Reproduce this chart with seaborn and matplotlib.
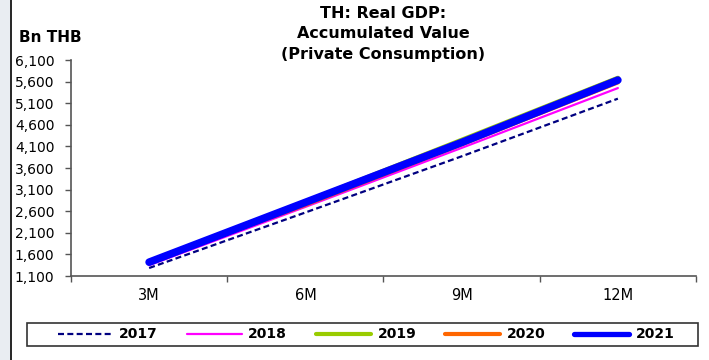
import matplotlib
matplotlib.use("Agg")
import matplotlib.pyplot as plt
from matplotlib.patches import Rectangle
from matplotlib.lines import Line2D
import seaborn as sns
import pandas as pd

# Accumulated real private consumption, Bn THB
periods = ["3M", "6M", "9M", "12M"]
years = ["2017", "2018", "2019", "2020", "2021"]
v2017 = [1285, 2570, 3870, 5205]
v2018 = [1350, 2700, 4065, 5450]
v2019 = [1420, 2820, 4250, 5685]
v2020 = [1430, 2750, 4150, 5585]
v2021 = [1420, 2805, 4190, 5635]
yticks = [1100, 1600, 2100, 2600, 3100, 3600, 4100, 4600, 5100, 5600, 6100]
title_lines = ["TH: Real GDP:", "Accumulated Value", "(Private Consumption)"]

series = dict(zip(years, [v2017, v2018, v2019, v2020, v2021]))
rows = []
for yr, vals in series.items():
    for i, (p, v) in enumerate(zip(periods, vals)):
        rows.append({"pos": i, "period": p, "year": yr, "value": v})
df = pd.DataFrame(rows)

sns.set_theme(style="white")
plt.rcParams["font.family"] = ["DejaVu Sans"]
plt.rcParams["text.color"] = "black"
plt.rcParams["xtick.color"] = "black"
plt.rcParams["ytick.color"] = "black"

W, H = 709, 360
styles = {
    "2017": dict(color="#000080", lw=1.6, ls=(0, (2.7, 1.5)), leg_lw=1.6),
    "2018": dict(color="#FF00FF", lw=1.6, ls="-", leg_lw=1.6),
    "2019": dict(color="#99CC00", lw=3.2, ls="-", leg_lw=3.0),
    "2020": dict(color="#FF6600", lw=3.2, ls="-", leg_lw=3.0),
    "2021": dict(color="#0000FF", lw=5.5, ls="-", leg_lw=3.8),
}

fig = plt.figure(figsize=(W / 100, H / 100), dpi=100)
ax = fig.add_axes([71 / W, 1 - 276 / H, (696 - 71) / W, 216 / H])

for yr in years:
    st = styles[yr]
    sns.lineplot(data=df[df["year"] == yr], x="pos", y="value", ax=ax,
                 color=st["color"], linewidth=st["lw"], linestyle=st["ls"],
                 solid_capstyle="round", legend=False)

ax.set_xlim(-0.5, len(periods) - 0.5)
ax.set_ylim(yticks[0], yticks[-1])
ax.set_yticks(yticks)
ax.set_yticklabels([f"{t:,}" for t in yticks], fontsize=10)
ax.set_xticks([i - 0.5 for i in range(len(periods) + 1)])
ax.set_xticklabels([])
ax.set_xticks(range(len(periods)), minor=True)
ax.set_xticklabels(periods, minor=True, fontsize=10.5)
ax.tick_params(axis="x", which="major", length=4, width=1, color="#555555", direction="out", bottom=True)
ax.tick_params(axis="x", which="minor", length=0, pad=9, labelcolor="black")
ax.tick_params(axis="y", length=4, width=1, color="#555555", direction="out", left=True, pad=8,
               labelcolor="black")
ax.set_xlabel("")
ax.set_ylabel("")
for s in ["top", "right"]:
    ax.spines[s].set_visible(False)
for s in ["left", "bottom"]:
    ax.spines[s].set_color("#555555")
    ax.spines[s].set_linewidth(1.2)

for txt, yc in zip(title_lines, [13, 33, 54]):
    fig.text(383 / W, 1 - yc / H, txt, ha="center", va="center",
             fontsize=11.5, fontweight="bold", color="black")
fig.text(19 / W, 1 - 37 / H, "Bn THB", ha="left", va="center", fontsize=11,
         fontweight="bold", color="black")

# legend row with its own box
fig.patches.append(Rectangle((27 / W, 1 - 346 / H), (698 - 27) / W, 23 / H,
                             transform=fig.transFigure, facecolor="white",
                             edgecolor="#333333", lw=1.2, zorder=1))
handles = [Line2D([0], [0], color=styles[y]["color"], lw=styles[y]["leg_lw"], ls=styles[y]["ls"],
                  solid_capstyle="round") for y in years]
leg = fig.legend(handles, years, loc="center", ncol=5,
                 bbox_to_anchor=(366 / W, 1 - 334.5 / H),
                 prop={"weight": "bold", "size": 10}, handlelength=4.0, handletextpad=0.45,
                 columnspacing=2.05, frameon=False, borderpad=0, borderaxespad=0,
                 labelcolor="black")

# window edge on the left
fig.patches.append(Rectangle((0, 0), 10 / W, 1, transform=fig.transFigure,
                             facecolor="#e9edf2", edgecolor="none", zorder=0))
fig.lines.append(Line2D([10.5 / W, 10.5 / W], [0, 1], transform=fig.transFigure,
                        color="black", lw=1.2))

fig.savefig("out.png", dpi=100)
